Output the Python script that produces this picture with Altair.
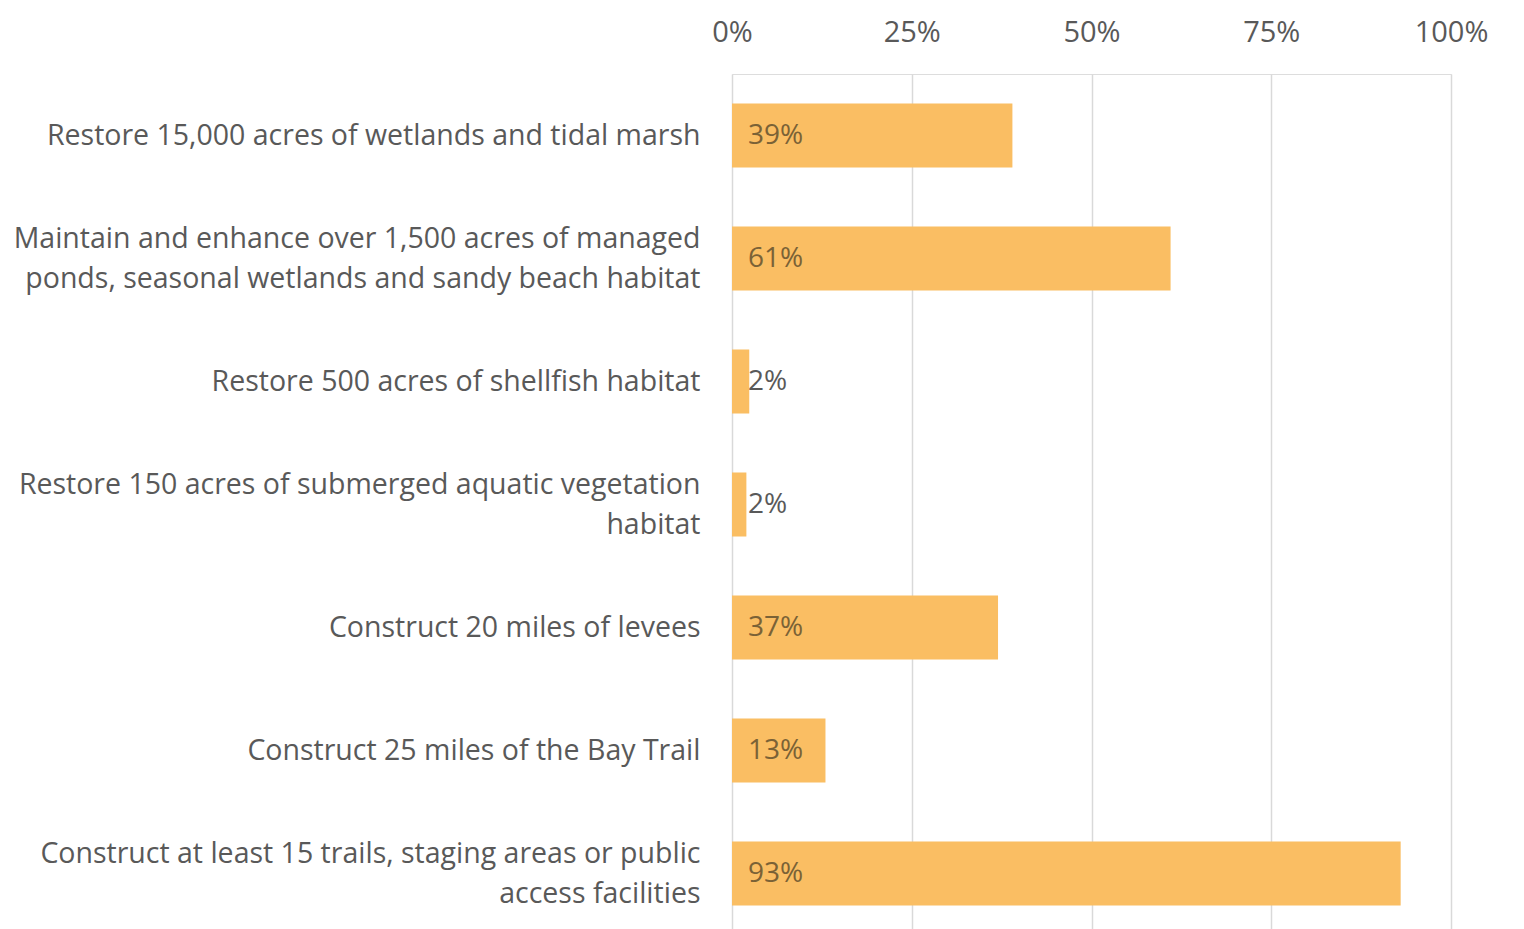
import altair as alt
import pandas as pd

categories = [
    "Restore 15,000 acres of wetlands and tidal marsh",
    "Maintain and enhance over 1,500 acres of managed|ponds, seasonal wetlands and sandy beach habitat",
    "Restore 500 acres of shellfish habitat",
    "Restore 150 acres of submerged aquatic vegetation|habitat",
    "Construct 20 miles of levees",
    "Construct 25 miles of the Bay Trail",
    "Construct at least 15 trails, staging areas or public|access facilities",
]
values = [0.39, 0.61, 0.024, 0.02, 0.37, 0.13, 0.93]
labels = ["39%", "61%", "2%", "2%", "37%", "13%", "93%"]

df = pd.DataFrame({"cat": categories, "val": values, "lab": labels, "zero": [0] * len(values)})

FONT = "Open Sans"
GRAY = "#595959"

y_enc = alt.Y(
    "cat:N",
    sort=categories,
    title=None,
    scale=alt.Scale(paddingInner=0.48, paddingOuter=0.24),
    axis=alt.Axis(
        labelExpr="split(datum.label, '|')",
        labelFont=FONT,
        labelFontSize=28.5,
        labelColor=GRAY,
        labelPadding=32,
        labelLineHeight=40,
        labelLimit=1000,
        labelBaseline="middle",
        labelOffset={"condition": {"test": "indexof(datum.value, '|') >= 0", "value": -20}, "value": 0},
        domain=False,
        ticks=False,
        grid=False,
    ),
)

bars = alt.Chart(df).mark_bar(color="#FABE63").encode(
    x=alt.X(
        "val:Q",
        title=None,
        scale=alt.Scale(domain=[0, 1], nice=False),
        axis=alt.Axis(
            orient="top",
            format=".0%",
            values=[0, 0.25, 0.5, 0.75, 1.0],
            labelFont=FONT,
            labelFontSize=29,
            labelColor=GRAY,
            labelPadding=27,
            labelFlush=False,
            domain=False,
            ticks=False,
            grid=True,
            gridColor="#D9D9D9",
            gridWidth=1.5,
        ),
    ),
    y=y_enc,
)

text = alt.Chart(df).mark_text(
    align="left", baseline="middle", dx=16, font=FONT, fontSize=28
).encode(
    x=alt.X("zero:Q"),
    y=alt.Y("cat:N", sort=categories),
    text="lab:N",
    color=alt.condition("datum.val > 0.05", alt.value("#7A6236"), alt.value(GRAY)),
)

chart = (
    alt.layer(bars, text)
    .properties(width=719, height=861, padding={"top": 10, "left": 5, "right": 5, "bottom": 5})
    .configure_view(strokeOpacity=0)
    .configure_axis(domain=False, ticks=False)
    .configure(background="white")
)

chart.save("out.html", embed_options={"renderer": "svg", "actions": False})
